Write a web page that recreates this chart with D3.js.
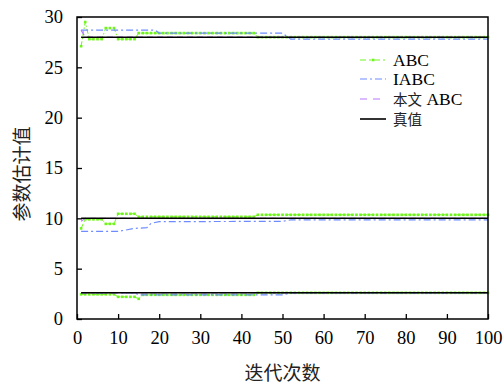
<!DOCTYPE html>
<html>
<head>
<meta charset="utf-8">
<script src="https://cdn.jsdelivr.net/npm/d3@7"></script>
<style>
  body { margin: 0; background: #fff; }
  text { font-family: "Liberation Serif", "Times New Roman", serif; }
  .cjk { font-family: "Noto Sans CJK SC", sans-serif; }
</style>
</head>
<body>
<svg width="504" height="385"></svg>
<script>
// ABC estimates, one value per iteration (1..100)
var abcTop = [27.1, 29.5, 27.8, 27.8, 27.8, 27.8, 28.9, 28.9, 28.9, 27.8,
  27.8, 27.8, 27.8, 27.8, 28.4, 28.4, 28.4, 28.4, 28.4, 28.4,
  28.4, 28.4, 28.4, 28.4, 28.4, 28.4, 28.4, 28.4, 28.4, 28.4,
  28.4, 28.4, 28.4, 28.4, 28.4, 28.4, 28.4, 28.4, 28.4, 28.4,
  28.4, 28.4, 28.4, 28.0, 28.0, 28.0, 28.0, 28.0, 28.0, 28.0,
  28.0, 28.0, 28.0, 28.0, 28.0, 28.0, 28.0, 28.0, 28.0, 28.0,
  28.0, 28.0, 28.0, 28.0, 28.0, 28.0, 28.0, 28.0, 28.0, 28.0,
  28.0, 28.0, 28.0, 28.0, 28.0, 28.0, 28.0, 28.0, 28.0, 28.0,
  28.0, 28.0, 28.0, 28.0, 28.0, 28.0, 28.0, 28.0, 28.0, 28.0,
  28.0, 28.0, 28.0, 28.0, 28.0, 28.0, 28.0, 28.0, 28.0, 28.0];

var abcMid = [9.0, 9.9, 9.9, 9.9, 9.9, 9.9, 9.45, 9.45, 9.45, 10.45,
  10.45, 10.45, 10.45, 10.45, 10.15, 10.15, 10.15, 10.15, 10.15, 10.15,
  10.15, 10.15, 10.15, 10.15, 10.15, 10.15, 10.15, 10.15, 10.15, 10.15,
  10.15, 10.15, 10.15, 10.15, 10.15, 10.15, 10.15, 10.15, 10.15, 10.15,
  10.15, 10.15, 10.15, 10.35, 10.35, 10.35, 10.35, 10.35, 10.35, 10.35,
  10.35, 10.35, 10.35, 10.35, 10.35, 10.35, 10.35, 10.35, 10.35, 10.35,
  10.35, 10.35, 10.35, 10.35, 10.35, 10.35, 10.35, 10.35, 10.35, 10.35,
  10.35, 10.35, 10.35, 10.35, 10.35, 10.35, 10.35, 10.35, 10.35, 10.35,
  10.35, 10.35, 10.35, 10.35, 10.35, 10.35, 10.35, 10.35, 10.35, 10.35,
  10.35, 10.35, 10.35, 10.35, 10.35, 10.35, 10.35, 10.35, 10.35, 10.35];

var abcLow = [2.45, 2.45, 2.45, 2.45, 2.45, 2.45, 2.45, 2.45, 2.45, 2.2,
  2.2, 2.2, 2.2, 2.2, 2.0, 2.4, 2.4, 2.4, 2.4, 2.4,
  2.4, 2.4, 2.4, 2.4, 2.4, 2.4, 2.4, 2.4, 2.4, 2.4,
  2.4, 2.4, 2.4, 2.4, 2.4, 2.4, 2.4, 2.4, 2.4, 2.4,
  2.4, 2.4, 2.4, 2.6, 2.6, 2.6, 2.6, 2.6, 2.6, 2.6,
  2.6, 2.6, 2.6, 2.6, 2.6, 2.6, 2.6, 2.6, 2.6, 2.6,
  2.6, 2.6, 2.6, 2.6, 2.6, 2.6, 2.6, 2.6, 2.6, 2.6,
  2.6, 2.6, 2.6, 2.6, 2.6, 2.6, 2.6, 2.6, 2.6, 2.6,
  2.6, 2.6, 2.6, 2.6, 2.6, 2.6, 2.6, 2.6, 2.6, 2.6,
  2.6, 2.6, 2.6, 2.6, 2.6, 2.6, 2.6, 2.6, 2.6, 2.6];

// IABC estimates, [iteration, value] points
var iabcTop = [[1, 28.7], [19, 28.7], [20, 28.4], [50, 28.4], [52, 27.8], [100, 27.8]];
var iabcMid = [[1, 8.7], [10, 8.7], [14, 9.0], [17, 9.07], [18, 9.5], [20, 9.67], [50, 9.7], [52, 9.85], [100, 9.85]];
var iabcLow = [[1, 2.6], [14, 2.6], [15, 2.4], [50, 2.4], [52, 2.6], [100, 2.6]];

// proposed method (本文 ABC)
var oursTop = [[1, 28.7], [2, 28.0], [100, 28.0]];
var oursMid = [[1, 9.7], [2, 10.0], [100, 10.0]];
var oursLow = [[1, 2.6], [100, 2.6]];

// true values
var trueVals = [28, 10, 2.6];

var xTicks = [0, 10, 20, 30, 40, 50, 60, 70, 80, 90, 100];
var yTicks = [0, 5, 10, 15, 20, 25, 30];
// legend labels split into [cjk part, latin part]
var legendLabels = [["", "ABC"], ["", "IABC"], ["本文", " ABC"], ["真值", ""]];

var svg = d3.select("svg"),
    margin = {top: 17, right: 16, bottom: 66, left: 77},
    width = +svg.attr("width") - margin.left - margin.right,
    height = +svg.attr("height") - margin.top - margin.bottom;

var x = d3.scaleLinear().domain([0, 100]).range([0, width]);
var y = d3.scaleLinear().domain([0, 30]).range([height, 0]);

var g = svg.append("g").attr("transform", "translate(" + margin.left + "," + margin.top + ")");

var line = d3.line()
    .x(function(d) { return x(d[0]); })
    .y(function(d) { return y(d[1]); });

function toPairs(arr) { // attach iteration numbers 1..100
  return arr.map(function(v, i) { return [i + 1, v]; });
}

var green = "#70f51c", blue = "#6f8cff", purple = "#b777ff";

// ABC series
[abcTop, abcMid, abcLow].forEach(function(s) {
  var pts = toPairs(s);
  g.append("path").datum(pts)
      .attr("d", line)
      .attr("fill", "none")
      .attr("stroke", green)
      .attr("stroke-width", 1)
      .attr("stroke-dasharray", "5,2,1.5,2");
  g.append("g").selectAll("rect")
    .data(pts)
    .enter().append("rect")
      .attr("x", function(d) { return x(d[0]) - 1.3; })
      .attr("y", function(d) { return y(d[1]) - 1.3; })
      .attr("width", 2.6)
      .attr("height", 2.6)
      .attr("fill", green);
});

// IABC series
[iabcTop, iabcMid, iabcLow].forEach(function(s) {
  g.append("path").datum(s)
      .attr("d", line)
      .attr("fill", "none")
      .attr("stroke", blue)
      .attr("stroke-width", 1.2)
      .attr("stroke-dasharray", "7,3,2,3");
});

// 本文 ABC series
[oursTop, oursMid, oursLow].forEach(function(s) {
  g.append("path").datum(s)
      .attr("d", line)
      .attr("fill", "none")
      .attr("stroke", purple)
      .attr("stroke-width", 1.2)
      .attr("stroke-dasharray", "6,4");
});

// true values
g.selectAll(".truth")
  .data(trueVals)
  .enter().append("path")
    .attr("class", "truth")
    .attr("d", function(v) { return line([[1, v], [100, v]]); })
    .attr("fill", "none")
    .attr("stroke", "#000")
    .attr("stroke-width", 1.5);

// axes, ticks pointing inward
var xAxis = g.append("g")
    .attr("transform", "translate(0," + height + ")")
    .call(d3.axisBottom(x).tickValues(xTicks).tickSizeInner(-5).tickSizeOuter(0).tickPadding(12));
var yAxis = g.append("g")
    .call(d3.axisLeft(y).tickValues(yTicks).tickSizeInner(-5).tickSizeOuter(0).tickPadding(14));

[xAxis, yAxis].forEach(function(a) {
  a.select(".domain").remove();
  a.selectAll("line").attr("stroke", "#000").attr("stroke-width", 1.3);
  a.selectAll("text")
      .attr("fill", "#000")
      .style("font-family", "'Liberation Serif', serif")
      .style("font-size", "18.5px");
});

// frame
g.append("rect")
    .attr("width", width)
    .attr("height", height)
    .attr("fill", "none")
    .attr("stroke", "#000")
    .attr("stroke-width", 1.5);

// axis titles
svg.append("text")
    .attr("class", "cjk")
    .attr("x", margin.left + width / 2)
    .attr("y", 380)
    .attr("text-anchor", "middle")
    .attr("fill", "#222")
    .style("font-size", "19px")
    .text("迭代次数");

svg.append("text")
    .attr("class", "cjk")
    .attr("transform", "translate(29," + (margin.top + height / 2 + 6) + ") rotate(-90)")
    .attr("text-anchor", "middle")
    .attr("fill", "#222")
    .style("font-size", "19px")
    .text("参数估计值");

// legend
var legend = svg.append("g").attr("transform", "translate(360,0)");
var legendY = [60, 79, 99, 119];
var legendStyle = [
  {stroke: green, dash: "6,3,2,3", w: 1},
  {stroke: blue, dash: "7,3,2,3", w: 1.2},
  {stroke: purple, dash: "7,6", w: 1.2},
  {stroke: "#000", dash: null, w: 1.6}
];

legendLabels.forEach(function(label, i) {
  var row = legend.append("g").attr("transform", "translate(0," + legendY[i] + ")");
  row.append("line")
      .attr("x1", 0).attr("x2", 26)
      .attr("stroke", legendStyle[i].stroke)
      .attr("stroke-width", legendStyle[i].w)
      .attr("stroke-dasharray", legendStyle[i].dash);
  if (i === 0) {
    row.append("rect").attr("x", 11.7).attr("y", -1.3).attr("width", 2.6).attr("height", 2.6).attr("fill", green);
  }
  var t = row.append("text")
      .attr("x", 33)
      .attr("y", 6)
      .style("font-size", "17.5px");
  if (label[0]) {
    t.append("tspan")
        .style("font-family", "'Noto Sans CJK SC', sans-serif")
        .style("font-size", "14.5px")
        .attr("fill", "#222")
        .text(label[0]);
  }
  if (label[1]) {
    t.append("tspan")
        .style("font-family", "'Liberation Serif', serif")
        .text(label[1]);
  }
});
</script>
</body>
</html>
